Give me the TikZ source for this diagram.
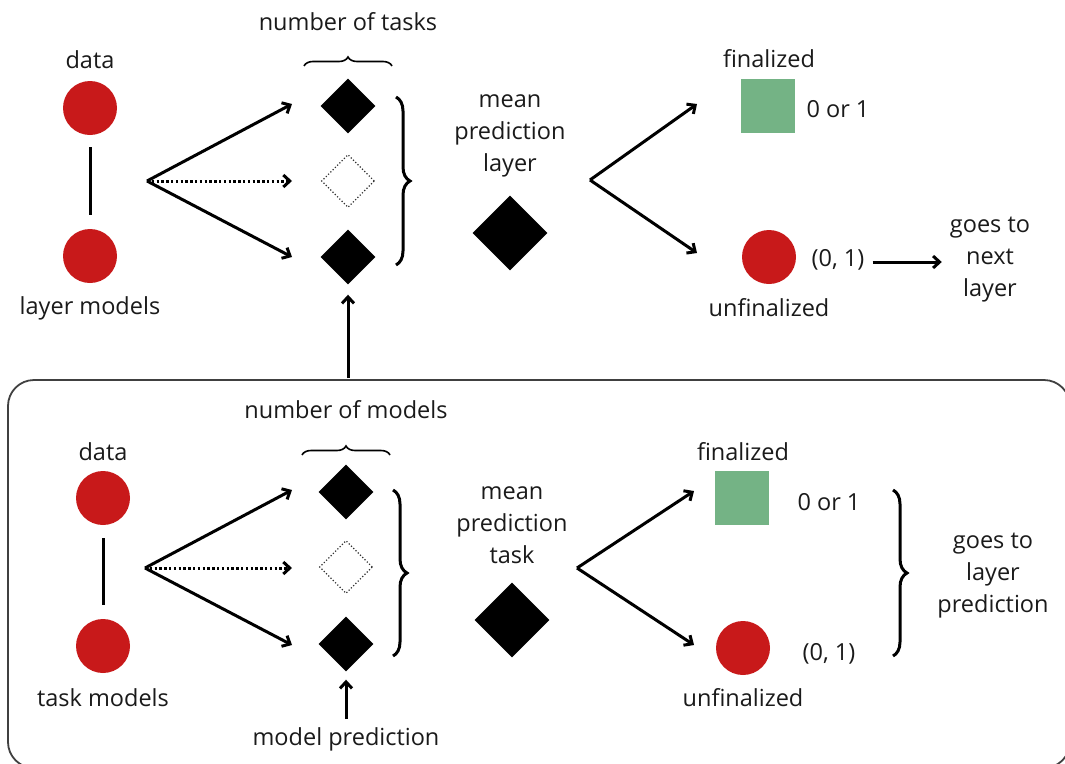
\documentclass[tikz,border=0pt]{standalone}
\usepackage{fontspec}
\setmainfont{Open Sans}
\usetikzlibrary{arrows.meta,decorations.pathreplacing,shapes.geometric,calc}
\definecolor{dotred}{HTML}{C8191A}
\definecolor{sqgreen}{HTML}{74B385}
\definecolor{txt}{HTML}{1A1A1A}
\begin{document}
\begin{tikzpicture}[x=1pt,y=-1pt,
  lbl/.style={font=\fontsize{23.5}{32}\selectfont, text=txt, inner sep=0pt, align=center, yshift=-2pt},
  reddot/.style={circle, fill=dotred, minimum size=54pt, inner sep=0pt},
  greensq/.style={rectangle, fill=sqgreen, minimum size=54pt, inner sep=0pt},
  dia/.style={diamond, fill=black, minimum size=55pt, inner sep=0pt},
  bigdia/.style={diamond, fill=black, minimum size=75pt, inner sep=0pt},
  hollowdia/.style={diamond, draw=black!80, dotted, line width=1.2pt, minimum size=53pt, inner sep=0pt},
  arr/.style={line width=3pt, -{Straight Barb[length=6.5pt,width=12pt]}},
  dotarr/.style={line width=3pt, dash pattern=on 2.4pt off 2.4pt, -{Straight Barb[length=6.5pt,width=12pt]}},
  conn/.style={line width=3pt},
  bracebig/.style={decorate, decoration={brace, amplitude=14pt}, line width=3pt},
  bracetop/.style={decorate, decoration={brace, amplitude=9pt}, line width=1.6pt},
]
\useasboundingbox (0,0) rectangle (1065,763);

% ---------------- top part ----------------
\node[lbl] (tdatal) at (90,58) {data};
\node[reddot] (tdata) at (90,108) {};
\node[reddot] (tlm) at (90,256) {};
\node[lbl] (tlml) at (90,306) {layer models};
\draw[conn] ($(tdata.south)+(0,12)$) -- ($(tlm.north)+(0,-14)$);
\coordinate (to) at (147,181);
\node[dia] (td1) at (348,106) {};
\node[hollowdia] (td2) at (348,181) {};
\node[dia] (td3) at (348,257) {};
\coordinate (ta1) at (292,104);
\coordinate (ta2) at (292,181);
\coordinate (ta3) at (292,257);
\draw[arr] (to) -- (ta1);
\draw[dotarr] (to) -- (ta2);
\draw[arr] (to) -- (ta3);
\node[lbl] (tnum) at (348,20) {number of tasks};
\draw[bracetop] (304,66) -- (392,66);
\draw[bracebig] (396,97) -- (396,265);
\node[lbl] (tmean) at (510,134) {mean\\prediction\\layer};
\node[bigdia] (tbig) at (510,233) {};
\coordinate (tf) at (590,180);
\coordinate (tfa) at (697,104);
\coordinate (tfb) at (697,253);
\draw[arr] (tf) -- (tfa);
\draw[arr] (tf) -- (tfb);
\node[greensq] (tsq) at (768,106) {};
\node[lbl] (tfinl) at (769,57) {finalized};
\node[lbl] (t01) at (838,107) {0 or 1};
\node[reddot] (tun) at (769,257) {};
\node[lbl] (tunl) at (769,306) {unfinalized};
\node[lbl] (t0c1) at (838,258) {(0, 1)};
\node[lbl] (tgoes) at (990,258) {goes to\\next\\layer};
\draw[arr] ($(t0c1.east)+(8,2)$) -- ($(tgoes.west)+(-8,2)$);

% ---------------- bottom box ----------------
\draw[line width=1.8pt, draw=black!75, rounded corners=26pt] (8,380) rectangle (1070,768);
\coordinate (up0) at (348,378);
\draw[arr] (up0) -- ($(td3.south)+(0,10)$);

\node[lbl] (bdatal) at (103,450) {data};
\node[reddot] (bdata) at (103,498) {};
\node[reddot] (btm) at (103,646) {};
\node[lbl] (btml) at (103,696) {task models};
\draw[conn] ($(bdata.south)+(0,13)$) -- ($(btm.north)+(0,-14)$);
\coordinate (bo) at (145,568);
\node[dia] (bd1) at (346,492) {};
\node[hollowdia] (bd2) at (346,567) {};
\node[dia] (bd3) at (346,644) {};
\coordinate (ba1) at (292,490);
\coordinate (ba2) at (292,568);
\coordinate (ba3) at (292,645);
\draw[arr] (bo) -- (ba1);
\draw[dotarr] (bo) -- (ba2);
\draw[arr] (bo) -- (ba3);
\node[lbl] (bnum) at (346,408) {number of models};
\draw[bracetop] (302,455) -- (390,455);
\draw[bracebig] (393,490) -- (393,656);
\node[lbl] (bmean) at (512,523) {mean\\prediction\\task};
\node[bigdia] (bbig) at (512,620) {};
\coordinate (bf) at (577,568);
\coordinate (bfa) at (694,491);
\coordinate (bfb) at (694,645);
\draw[arr] (bf) -- (bfa);
\draw[arr] (bf) -- (bfb);
\node[greensq] (bsq) at (742,498) {};
\node[lbl] (bfinl) at (743,450) {finalized};
\node[lbl] (b01) at (829,500) {0 or 1};
\node[reddot] (bun) at (743,648) {};
\node[lbl] (bunl) at (743,696) {unfinalized};
\node[lbl] (b0c1) at (829,652) {(0, 1)};
\draw[bracebig] (893,490) -- (893,656);
\node[lbl] (bgoes) at (993,574) {goes to\\layer\\prediction};
\node[lbl] (bmp) at (346,737) {model prediction};
\draw[arr] ($(bmp.north)+(0,-8)$) -- ($(bd3.south)+(0,8)$);
\end{tikzpicture}
\end{document}
